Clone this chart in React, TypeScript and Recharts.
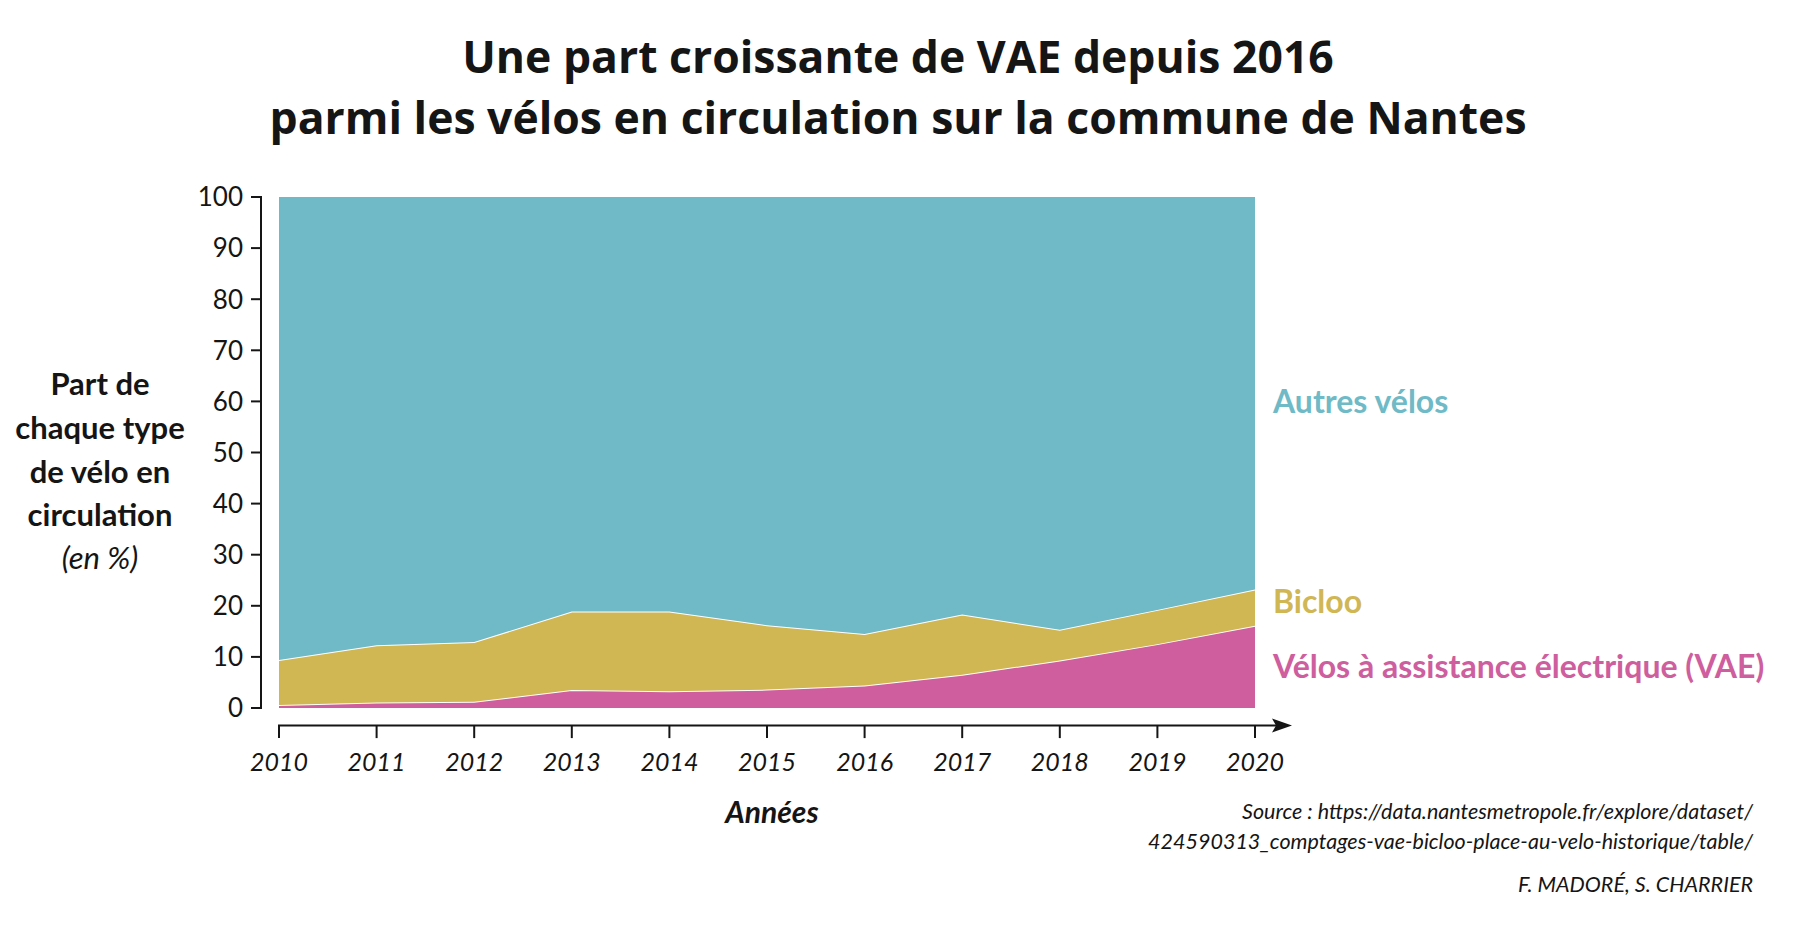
import { Area, AreaChart, XAxis, YAxis } from "recharts";

const YEARS = ["2010", "2011", "2012", "2013", "2014", "2015", "2016", "2017", "2018", "2019", "2020"];
// shares in %
const VAE = [0.6, 1.1, 1.2, 3.5, 3.3, 3.6, 4.4, 6.5, 9.3, 12.5, 16.1];
const BICLOO = [8.8, 11.2, 11.7, 15.4, 15.6, 12.6, 10.1, 11.8, 6.0, 6.7, 7.1];
const AUTRES = [90.6, 87.7, 87.1, 81.1, 81.1, 83.8, 85.5, 81.7, 84.7, 80.8, 76.8];
const Y_TICKS = [0, 10, 20, 30, 40, 50, 60, 70, 80, 90, 100];

const data = YEARS.map((year, i) => ({
  year,
  vae: VAE[i],
  bicloo: BICLOO[i],
  autres: AUTRES[i],
}));

const W = 1800;
const H = 925;
const PLOT_TOP = 197;
const PLOT_BOTTOM = 708;
const PLOT_LEFT = 279;
const PLOT_RIGHT = 1255;
const X_AXIS_H = 60;

const TEAL = "#6fbac6";
const GOLD = "#d1b654";
const PINK = "#ce5e9e";
const INK = "#151515";

const tickFont = "Lato, 'Open Sans', sans-serif";

function YTick(props: any) {
  const { x, y, payload } = props;
  const axisX = x - 18;
  return (
    <g>
      <line x1={axisX} x2={axisX - 10} y1={y} y2={y} stroke={INK} strokeWidth={2} />
      <text x={axisX - 18} y={y} dy="0.36em" textAnchor="end" fontFamily={tickFont} fontSize={26} fill={INK}>
        {payload.value}
      </text>
      {payload.value === 0 && (
        <line x1={axisX} x2={axisX} y1={y + 1} y2={y - (PLOT_BOTTOM - PLOT_TOP) - 1} stroke={INK} strokeWidth={2} />
      )}
    </g>
  );
}

function XTick(props: any) {
  const { x, y, payload, index } = props;
  const lineY = y + 17.6;
  return (
    <g>
      {index === 0 && (
        <g>
          <line x1={x - 1} x2={1282} y1={lineY} y2={lineY} stroke={INK} strokeWidth={2} />
          <polygon points={`1292,${lineY} 1272,${lineY - 7} 1276,${lineY} 1272,${lineY + 7}`} fill={INK} />
        </g>
      )}
      <line x1={x} x2={x} y1={lineY} y2={lineY + 12.5} stroke={INK} strokeWidth={2} />
      <text x={x} y={y + 63} textAnchor="middle" fontFamily={tickFont} fontStyle="italic" fontSize={25} fill={INK}>
        {payload.value}
      </text>
    </g>
  );
}

export default function App() {
  const textFont = "Lato, 'Open Sans', sans-serif";
  return (
    <div style={{ position: "absolute", left: 0, top: 0, width: W, height: H, background: "#fff" }}>
      <AreaChart
        width={W}
        height={H}
        data={data}
        margin={{ top: PLOT_TOP, right: W - PLOT_RIGHT, bottom: H - PLOT_BOTTOM - X_AXIS_H, left: 0 }}
      >
        <XAxis
          dataKey="year"
          height={X_AXIS_H}
          axisLine={false}
          tickLine={false}
          tickSize={0}
          tickMargin={0}
          interval={0}
          tick={(p: any) => <XTick {...p} />}
        />
        <YAxis
          type="number"
          domain={[0, 100]}
          ticks={Y_TICKS}
          width={PLOT_LEFT}
          axisLine={false}
          tickLine={false}
          tickSize={0}
          tickMargin={0}
          interval={0}
          tick={(p: any) => <YTick {...p} />}
        />
        <Area type="linear" dataKey="vae" stackId="1" fill={PINK} fillOpacity={1} stroke="#fff" strokeWidth={2} isAnimationActive={false} />
        <Area type="linear" dataKey="bicloo" stackId="1" fill={GOLD} fillOpacity={1} stroke="#fff" strokeWidth={2} isAnimationActive={false} />
        <Area type="linear" dataKey="autres" stackId="1" fill={TEAL} fillOpacity={1} stroke="none" isAnimationActive={false} />
      </AreaChart>

      <svg width={W} height={H} style={{ position: "absolute", left: 0, top: 0, pointerEvents: "none" }}>
        <g fontFamily="'Open Sans', sans-serif" fontWeight={700} fontSize={44.5} fill={INK} textAnchor="middle">
          <text x={898} y={73}>Une part croissante de VAE depuis 2016</text>
          <text x={898} y={134}>parmi les vélos en circulation sur la commune de Nantes</text>
        </g>

        <g fontFamily={textFont} fontSize={31} fill={INK} textAnchor="middle">
          <text x={100} y={395} fontWeight={700}>Part de</text>
          <text x={100} y={439} fontWeight={700}>chaque type</text>
          <text x={100} y={483} fontWeight={700}>de vélo en</text>
          <text x={100} y={526} fontWeight={700}>circulation</text>
          <text x={100} y={569} fontStyle="italic">(en %)</text>
        </g>

        <text x={772} y={823} textAnchor="middle" fontFamily={textFont} fontWeight={700} fontStyle="italic" fontSize={30} fill={INK}>
          Années
        </text>

        <g fontFamily={textFont} fontWeight={700} fontSize={32}>
          <text x={1273} y={413} fill={TEAL}>Autres vélos</text>
          <text x={1273} y={613} fill={GOLD}>Bicloo</text>
          <text x={1273} y={678} fill={PINK}>Vélos à assistance électrique (VAE)</text>
        </g>

        <g fontFamily={textFont} fontStyle="italic" fontSize={21.5} fill={INK} textAnchor="end">
          <text x={1753} y={819}>Source : https://data.nantesmetropole.fr/explore/dataset/</text>
          <text x={1753} y={849}>424590313_comptages-vae-bicloo-place-au-velo-historique/table/</text>
          <text x={1753} y={892}>F. MADORÉ, S. CHARRIER</text>
        </g>
      </svg>
    </div>
  );
}
